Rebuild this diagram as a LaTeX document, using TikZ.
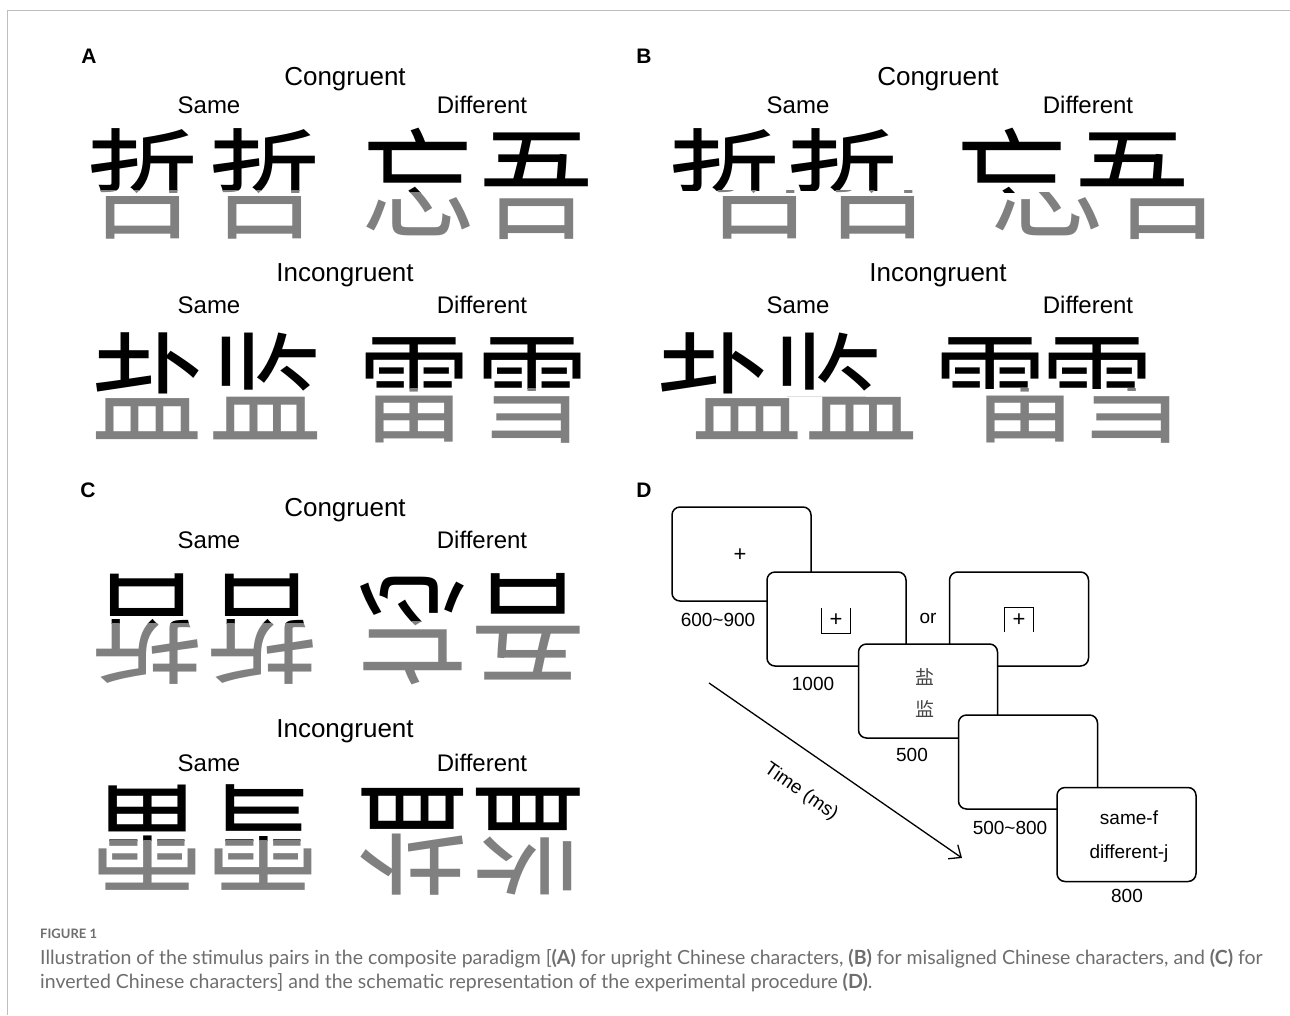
\documentclass[tikz,border=0pt]{standalone}
\usepackage{fontspec}
\setmainfont{Liberation Sans}
\newfontfamily\cjkfont{Noto Sans CJK SC}
\newfontfamily\capfont{Lato}
\usetikzlibrary{arrows.meta}
\definecolor{stimgray}{RGB}{128,128,128}
\definecolor{capgray}{RGB}{110,110,110}
\definecolor{framegray}{RGB}{190,190,190}
\definecolor{smallcjk}{RGB}{70,70,70}
\tikzset{
  cjk/.style={font=\cjkfont\fontsize{120}{120}\selectfont, inner sep=0pt, text height=105.6pt, text depth=14.4pt},
  headlbl/.style={font=\fontsize{26}{26}\selectfont, inner sep=0pt, anchor=base},
  sublbl/.style={font=\fontsize{24}{24}\selectfont, inner sep=0pt, anchor=base},
  panellbl/.style={font=\fontsize{21}{21}\selectfont\bfseries, inner sep=0pt, anchor=base},
  screenbox/.style={draw, line width=1.5pt, rounded corners=8pt, fill=white, minimum width=139pt, minimum height=94pt, inner sep=0pt},
  dlbl/.style={font=\fontsize{19}{19}\selectfont, inner sep=0pt, anchor=base},
  pluslbl/.style={font=\fontsize{22}{22}\selectfont, inner sep=0pt},
  capline/.style={font=\capfont\fontsize{19.5}{19.5}\selectfont, text=capgray, inner sep=0pt, anchor=base west},
}
% #1 options (rotate), #2 name, #3 x, #4 y, #5 char, #6 split offset, #7 shift of bottom half
\newcommand{\stim}[7][]{%
  \begin{scope}
    \clip (#3-75,#4-75) rectangle (#3+75,#4+#6);
    \node[cjk,text=black,#1] (#2t) at (#3,#4) {\scalebox{0.95}[1]{#5}};
  \end{scope}
  \begin{scope}
    \clip (#3+#7-75,#4+#6) rectangle (#3+#7+75,#4+75);
    \node[cjk,text=stimgray,#1] (#2b) at (#3+#7,#4) {\scalebox{0.95}[1]{#5}};
  \end{scope}}
\begin{document}
\begin{tikzpicture}[x=1pt,y=-1pt]
\useasboundingbox[fill=white] (0,0) rectangle (1290,1015);
\draw[framegray, line width=1pt] (7,1015) -- (7,10) -- (1290,10);

% panel letters
\node[panellbl] (pA) at (89,63) {A};
\node[panellbl] (pB) at (644,63) {B};
\node[panellbl] (pC) at (88,497) {C};
\node[panellbl] (pD) at (644,497) {D};

% ---------- Panel A ----------
\node[headlbl] (aCong) at (345,85) {Congruent};
\node[sublbl] (aS1) at (209,113) {Same};
\node[sublbl] (aD1) at (482,113) {Different};
\stim{a1}{142}{184}{哲}{6}{0}
\stim{a2}{264}{184}{哲}{6}{0}
\stim{a3}{418}{184}{忘}{8}{0}
\stim{a4}{536}{184}{吾}{8}{0}
\node[headlbl] (aInc) at (345,281) {Incongruent};
\node[sublbl] (aS2) at (209,313) {Same};
\node[sublbl] (aD2) at (482,313) {Different};
\stim{a5}{147}{388}{盐}{8}{0}
\stim{a6}{265}{388}{监}{8}{0}
\stim{a7}{414}{388}{雷}{0}{0}
\stim{a8}{532}{388}{雪}{0}{0}

% ---------- Panel B ----------
\node[headlbl] (bCong) at (938,85) {Congruent};
\node[sublbl] (bS1) at (798,113) {Same};
\node[sublbl] (bD1) at (1088,113) {Different};
\stim{b1}{724}{184}{哲}{6}{35}
\stim{b2}{842}{184}{哲}{6}{35}
\stim{b3}{1012}{184}{忘}{8}{35}
\stim{b4}{1132}{184}{吾}{8}{35}
\node[headlbl] (bInc) at (938,281) {Incongruent};
\node[sublbl] (bS2) at (798,313) {Same};
\node[sublbl] (bD2) at (1088,313) {Different};
\stim{b5}{712}{388}{盐}{8}{35}
\stim{b6}{826}{388}{监}{8}{35}
\stim{b7}{990}{388}{雷}{0}{35}
\stim{b8}{1097}{388}{雪}{0}{35}

% ---------- Panel C ----------
\node[headlbl] (cCong) at (345,516) {Congruent};
\node[sublbl] (cS1) at (209,548) {Same};
\node[sublbl] (cD1) at (482,548) {Different};
\stim[rotate=180]{c1}{147}{629}{哲}{-6}{0}
\stim[rotate=180]{c2}{262}{629}{哲}{-6}{0}
\stim[rotate=180]{c3}{412}{629}{忘}{-8}{0}
\stim[rotate=180]{c4}{528}{629}{吾}{-8}{0}
\node[headlbl] (cInc) at (345,737) {Incongruent};
\node[sublbl] (cS2) at (209,771) {Same};
\node[sublbl] (cD2) at (482,771) {Different};
\stim[rotate=180]{c5}{147}{840}{雷}{0}{0}
\stim[rotate=180]{c6}{263}{840}{雪}{0}{0}
\stim[rotate=180]{c7}{412}{840}{盐}{-8}{0}
\stim[rotate=180]{c8}{528}{840}{监}{-8}{0}

% ---------- Panel D ----------
\node[screenbox] (s1) at (741.5,554) {};
\node[pluslbl] (s1p) at (740,555) {+};
\node[dlbl] (t1) at (718,626) {600\textasciitilde900};

\node[screenbox] (s2) at (836.5,619) {};
\node[pluslbl] (s2p) at (836,620) {+};
\draw[line width=1pt] (821,608) -- (821,633) -- (850,633) -- (850,608);
\node[dlbl] (t2) at (813,690) {1000};

\node[dlbl] (tor) at (928,623) {or};

\node[screenbox] (s3) at (1019,619) {};
\node[pluslbl] (s3p) at (1019,620) {+};
\draw[line width=1pt] (1004,632) -- (1004,607) -- (1033,607) -- (1033,632);

\node[screenbox] (s4) at (928,691) {};
\node[font=\cjkfont\fontsize{19}{19}\selectfont, text=smallcjk, inner sep=0pt] (s4a) at (925,677) {盐};
\node[font=\cjkfont\fontsize{19}{19}\selectfont, text=smallcjk, inner sep=0pt] (s4b) at (925,709) {监};
\node[dlbl] (t4) at (912,761) {500};

\node[screenbox] (s5) at (1028,762) {};
\node[dlbl] (t5) at (1010,834) {500\textasciitilde800};

\node[screenbox] (s6) at (1126.5,834.5) {};
\node[dlbl] (s6a) at (1129,824) {same-f};
\node[dlbl] (s6b) at (1129,858) {different-j};
\node[dlbl] (t6) at (1127,902) {800};

\coordinate (ts) at (709,683);
\coordinate (te) at (962,858);
\draw[line width=1.3pt, -{Straight Barb[length=10pt,width=17pt]}] (ts) -- (te);
\node[font=\fontsize{19}{19}\selectfont, inner sep=0pt, rotate=-34.7] (tlbl) at (801,792) {Time (ms)};

% ---------- Caption ----------
\node[font=\capfont\bfseries\fontsize{13}{13}\selectfont, text=capgray, inner sep=0pt, anchor=base west] (fig) at (40,938) {FIGURE 1};
\node[capline] (cap1) at (40,964) {Illustration of the stimulus pairs in the composite paradigm [\textbf{(A)} for upright Chinese characters, \textbf{(B)} for misaligned Chinese characters, and \textbf{(C)} for};
\node[capline] (cap2) at (40,988) {inverted Chinese characters] and the schematic representation of the experimental procedure \textbf{(D)}.};
\end{tikzpicture}
\end{document}
